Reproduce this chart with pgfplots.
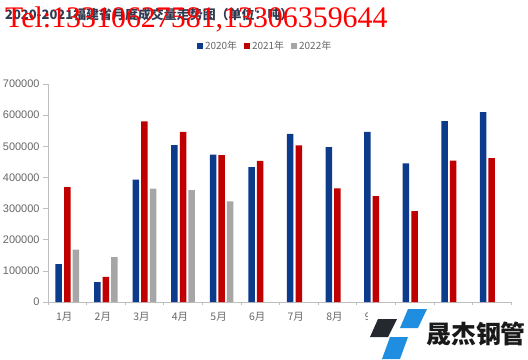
\documentclass[border=0pt]{standalone}
\usepackage{pgfplots}
\pgfplotsset{compat=1.18}
\usepackage{fontspec}
\setmainfont{Liberation Sans}
\newfontfamily\cjk{Noto Sans CJK SC}
\newfontfamily\telfont{Liberation Serif}
\definecolor{c2020}{HTML}{0D3B8C}
\definecolor{c2021}{HTML}{C00000}
\definecolor{c2022}{HTML}{A6A6A6}
\definecolor{ticktext}{HTML}{666666}
\definecolor{axisgray}{HTML}{BFBFBF}
\definecolor{logoblue}{HTML}{1F8EE0}
\definecolor{logodark}{HTML}{23292F}
\definecolor{titlecol}{HTML}{2F3B52}
\begin{document}
\begin{tikzpicture}[x=1bp,y=1bp]
\path[use as bounding box] (0,0) rectangle (528,359);
\begin{axis}[
  at={(48bp,57bp)}, anchor=south west,
  scale only axis, width=463bp, height=218bp,
  xmin=0.5, xmax=12.5, ymin=0, ymax=700000,
  axis x line*=bottom, axis y line*=left,
  axis line style={axisgray, line width=0.8pt, -},
  tick align=outside,
  ytick={0,100000,200000,300000,400000,500000,600000,700000},
  scaled y ticks=false,
  /pgf/number format/fixed,
  /pgf/number format/1000 sep={},
  /pgf/number format/assume math mode=true,
  major tick length=5bp,
  minor tick length=3bp,
  major y tick style={axisgray, line width=0.6pt},
  xtick={1,2,3,4,5,6,7,8,9,10,11,12},
  xticklabels={1月,2月,3月,4月,5月,6月,7月,8月,9月,10月,11月,12月},
  major x tick style={draw=none},
  minor xtick={0.5,1.5,2.5,3.5,4.5,5.5,6.5,7.5,8.5,9.5,10.5,11.5,12.5},
  minor x tick style={axisgray, line width=0.6pt},
  yticklabel style={font=\fontsize{11}{11}\selectfont, text=ticktext},
  xticklabel style={font=\cjk\fontsize{10.5}{10.5}\selectfont, text=ticktext, xshift=-3bp, yshift=-2bp},
  legend style={at={(axis description cs:0.469,1.174)}, anchor=center, draw=none, fill=none,
    legend columns=3, font=\cjk\fontsize{10}{10}\selectfont, text=ticktext,
    /tikz/every even column/.append style={column sep=5bp},
    inner sep=0pt, cells={anchor=west}},
  legend image code/.code={\fill[#1,draw=none] (0bp,-3bp) rectangle (6bp,3bp);},
]
\addplot[ybar, bar width=6.5bp, bar shift=-8.6bp, fill=c2020, draw=none] coordinates {
 (1,122000) (2,64000) (3,393000) (4,504000) (5,473000) (6,433000)
 (7,540000) (8,497000) (9,546000) (10,445000) (11,581000) (12,610000)};
\addplot[ybar, bar width=6.5bp, bar shift=0bp, fill=c2021, draw=none] coordinates {
 (1,369000) (2,81000) (3,580000) (4,546000) (5,472000) (6,453000)
 (7,503000) (8,365000) (9,340000) (10,292000) (11,454000) (12,462000)};
\addplot[ybar, bar width=6.5bp, bar shift=8.6bp, fill=c2022, draw=none] coordinates {
 (1,168000) (2,144000) (3,364000) (4,359000) (5,323000)};
\legend{2020年,2021年,2022年}
\end{axis}
% title and overlay
\node[anchor=west, inner sep=0, font=\cjk\bfseries\fontsize{13}{13}\selectfont, text=titlecol] at (5,344) {2020-2021福建省月度成交量走势图（单位：吨）};
\node[anchor=base west, inner sep=0, font=\telfont\fontsize{30}{30}\selectfont, text=red] at (5,332) {Tel:13310627581,13306359644};
% logo
\fill[white] (368,0) rectangle (528,53);
\fill[logodark] (378,40) -- (397,40) -- (388,22) -- (370,22) -- cycle;
\fill[logoblue] (408,50) -- (427,50) -- (418,31) -- (400,31) -- cycle;
\fill[logoblue] (390,22) -- (408,22) -- (400,0) -- (382,0) -- cycle;
\node[anchor=center, inner sep=0, font=\cjk\bfseries\fontsize{25}{25}\selectfont, text=black!90] at (476,25) {晟杰钢管};
\end{tikzpicture}
\end{document}
